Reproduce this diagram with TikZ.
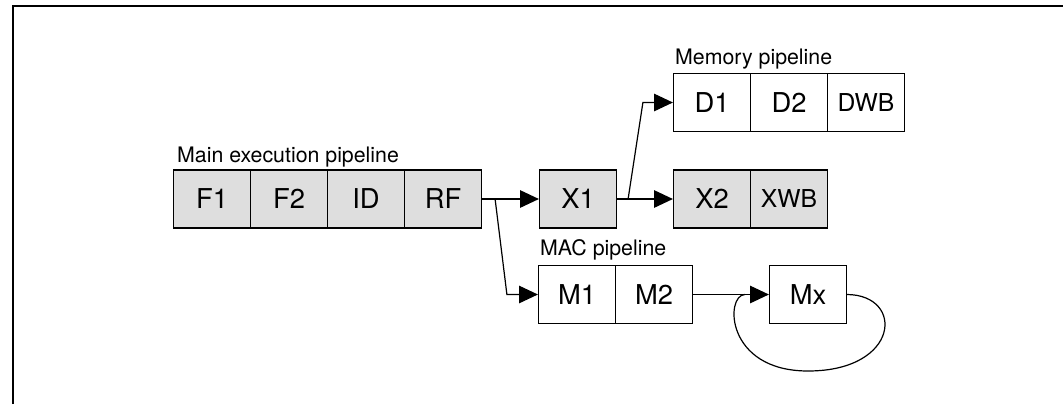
\documentclass[tikz,border=0pt]{standalone}
\usepackage{fontspec}
\setmainfont{TeX Gyre Heros}
\usetikzlibrary{arrows.meta,calc,positioning}
\definecolor{stagegray}{gray}{0.87}
\tikzset{
  stage/.style={draw, line width=0.9pt, minimum width=57.75pt, minimum height=43.5pt, inner sep=0pt, font=\fontsize{20.5}{24}\selectfont},
  gstage/.style={stage, fill=stagegray},
  wbtext/.style={font=\fontsize{18.5}{22}\selectfont},
  pipe/.style={font=\fontsize{16}{19}\selectfont, anchor=base west, inner sep=0pt},
  arr/.style={-{Triangle[length=14pt,width=13pt]}, line width=0.9pt},
}

\begin{document}
\begin{tikzpicture}[x=0.75pt, y=-0.75pt, node distance=57.75pt]
    \useasboundingbox (0,0) rectangle (1063,404);
    \draw[line width=1.7pt] (13,404) -- (13,6) -- (1063,6);

    % main pipeline
    \node[gstage] (f1) at (212,199) {F1};
    \node[gstage, right of=f1] (f2) {F2};
    \node[gstage, right of=f2] (id) {ID};
    \node[gstage, right of=id] (rf) {RF};
    \node[pipe] (mainlbl) at ($(f1.north west)+(4,-7)$) {Main execution pipeline};

    \node[gstage] (x1) at (578,199) {X1};
    \node[gstage] (x2) at (712,199) {X2};
    \node[gstage, wbtext, right of=x2] (xwb) {XWB};

    % memory pipeline
    \node[stage] (d1) at (712,102.5) {D1};
    \node[stage, right of=d1] (d2) {D2};
    \node[stage, wbtext, right of=d2] (dwb) {DWB};
    \node[pipe] (memlbl) at ($(d1.north west)+(2,-8)$) {Memory pipeline};

    % MAC pipeline
    \node[stage] (m1) at (577,294.5) {M1};
    \node[stage, right of=m1] (m2) {M2};
    \node[stage] (mx) at (808,294.5) {Mx};
    \node[pipe] (maclbl) at ($(m1.north west)+(2,-9)$) {MAC pipeline};

    \coordinate (split1) at ($(rf.east)+(13,0)$);
    \coordinate (bend1) at ($(m1.west)+(-31,0)$);
    \coordinate (split2) at ($(x1.east)+(11,0)$);
    \coordinate (bend2) at ($(d1.west)+(-30,0)$);
    \coordinate (join) at ($(mx.west)+(-24,0)$);

    \draw[arr] (rf.east) -- (x1.west);
    \draw[arr] (split1) -- (bend1) -- (m1.west);
    \draw[arr] (x1.east) -- (x2.west);
    \draw[arr] (split2) -- (bend2) -- (d1.west);
    \draw[arr] (m2.east) -- (mx.west);
    \draw[line width=0.9pt] (mx.east) .. controls (905,295) and (900,371) .. (808,371)
        .. controls (725,371) and (725,295) .. (join);
\end{tikzpicture}
\end{document}
